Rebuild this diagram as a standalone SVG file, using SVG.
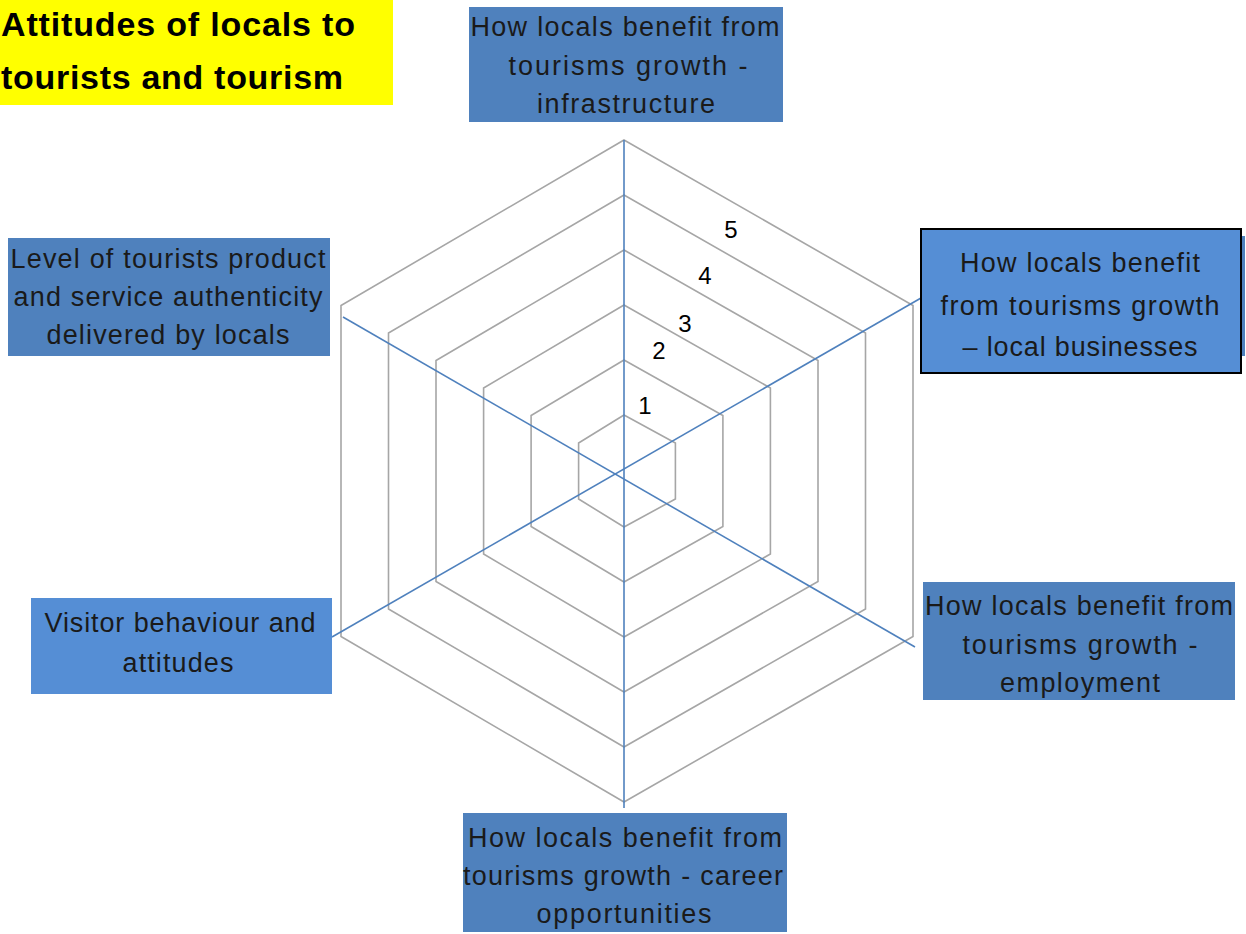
<svg xmlns="http://www.w3.org/2000/svg" width="1246" height="934" viewBox="0 0 1246 934">
<style>
.bg{fill:#ffffff}
.ring{fill:none;stroke:#a6a6a6;stroke-width:1.6}
.axis{fill:none;stroke:#4f81bd;stroke-width:1.6}
.dark{fill:#4f81bd}
.light{fill:#558ed5}
.lbl{font-family:"Liberation Sans",Arial,sans-serif;font-size:27px;fill:#1a1a1a;text-anchor:middle}
.num{font-family:"Liberation Sans",Arial,sans-serif;font-size:24px;fill:#000;text-anchor:middle}
.title{font-family:"Liberation Sans",Arial,sans-serif;font-size:34px;font-weight:bold;fill:#000}
</style>
<rect class="bg" x="0" y="0" width="1246" height="934"/>
<g id="grid">
<polygon class="ring" points="624,140 913,305.5 913,636.5 624,802 341,636.5 341,305.5"/>
<polygon class="ring" points="624,195 865.5,333 865.5,609 624,747 388.5,609 388.5,333"/>
<polygon class="ring" points="624,250 818,360.5 818,581.5 624,692 436,581.5 436,360.5"/>
<polygon class="ring" points="624,305 770.4,388 770.4,554 624,637 483.6,554 483.6,388"/>
<polygon class="ring" points="624,360 722.9,415.5 722.9,526.5 624,582 531.1,526.5 531.1,415.5"/>
<polygon class="ring" points="624,415 675.4,443 675.4,499 624,527 578.6,499 578.6,443"/>
</g>
<g id="connectors">
<line class="axis" x1="624" y1="140" x2="624" y2="808"/>
<line class="axis" x1="343" y1="317" x2="915" y2="647"/>
<line class="axis" x1="332" y1="637" x2="921" y2="298"/>
</g>
<g id="scale">
<text class="num" x="645" y="414">1</text>
<text class="num" x="659" y="359">2</text>
<text class="num" x="685" y="332">3</text>
<text class="num" x="705" y="284">4</text>
<text class="num" x="731" y="238">5</text>
</g>
<g id="title">
<rect x="0" y="0" width="393" height="105" fill="#ffff00"/>
<text class="title" x="1" y="36" textLength="354">Attitudes  of locals to</text>
<text class="title" x="1" y="89" textLength="342">tourists  and tourism</text>
</g>
<g id="node-infrastructure">
<rect class="dark" x="469" y="7" width="314" height="115"/>
<text class="lbl" x="625" y="36" textLength="309">How locals benefit from</text>
<text class="lbl" x="628" y="75" textLength="239">tourisms growth -</text>
<text class="lbl" x="626" y="113" textLength="178">infrastructure</text>
</g>
<g id="node-local-businesses">
<rect x="1240" y="236" width="5" height="120" fill="#4f81bd"/>
<rect class="light" x="921" y="229" width="320" height="144" stroke="#000" stroke-width="2"/>
<text class="lbl" x="1080" y="272" textLength="240">How locals benefit</text>
<text class="lbl" x="1080" y="315" textLength="279">from tourisms growth</text>
<text class="lbl" x="1080" y="356" textLength="235">– local businesses</text>
</g>
<g id="node-employment">
<rect class="dark" x="923" y="582" width="312" height="118"/>
<text class="lbl" x="1079" y="615" textLength="308">How locals benefit from</text>
<text class="lbl" x="1080" y="654" textLength="235">tourisms growth -</text>
<text class="lbl" x="1080" y="692" textLength="160">employment</text>
</g>
<g id="node-career">
<rect class="dark" x="463" y="813" width="324" height="119"/>
<text class="lbl" x="625" y="847" textLength="314">How locals benefit from</text>
<text class="lbl" x="623" y="885" textLength="320">tourisms growth - career</text>
<text class="lbl" x="624" y="923" textLength="175">opportunities</text>
</g>
<g id="node-visitor">
<rect class="light" x="31" y="598" width="301" height="96"/>
<text class="lbl" x="180" y="632" textLength="271">Visitor behaviour and</text>
<text class="lbl" x="178" y="672" textLength="111">attitudes</text>
</g>
<g id="node-authenticity">
<rect class="dark" x="8" y="238" width="322" height="118"/>
<text class="lbl" x="168" y="268" textLength="315">Level of tourists product</text>
<text class="lbl" x="168" y="306" textLength="309">and service authenticity</text>
<text class="lbl" x="168" y="344" textLength="243">delivered by locals</text>
</g>
</svg>
